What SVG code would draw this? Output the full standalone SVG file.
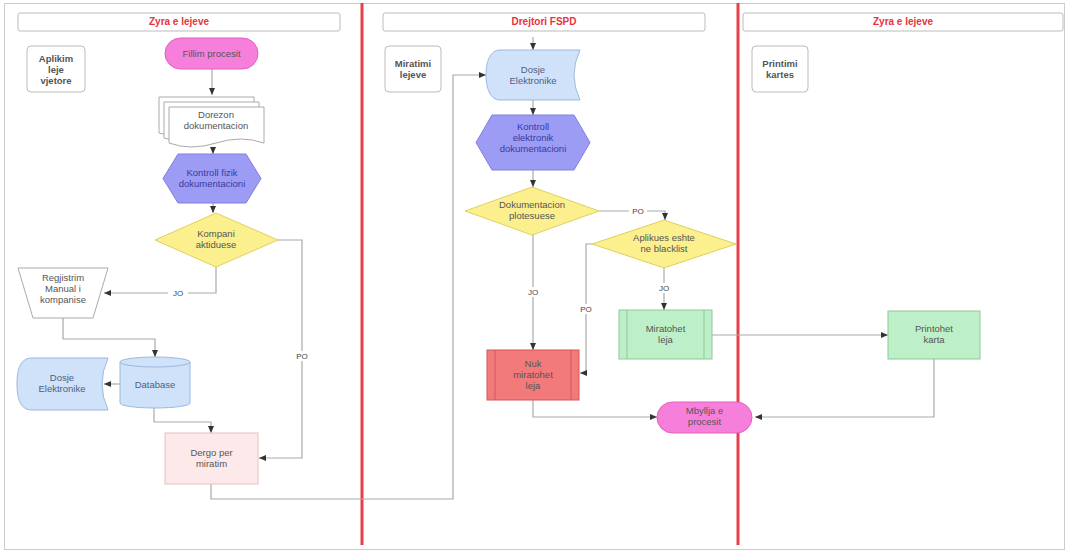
<svg xmlns="http://www.w3.org/2000/svg" width="1069" height="552" viewBox="0 0 1069 552">
<defs>
<marker id="ah" markerWidth="8" markerHeight="8" refX="7" refY="4" orient="auto" markerUnits="userSpaceOnUse">
<path d="M0,1 L7,4 L0,7 Z" fill="#333"/>
</marker>
<style>
text{font-family:"Liberation Sans",Arial,sans-serif;font-size:9.5px;fill:#555;text-anchor:middle}
.hdr{fill:#fff;stroke:#bbb;stroke-width:1}
.hdrt{fill:#e8323c;font-weight:bold;font-size:10px}
.lane{fill:#fff;stroke:#bbb;stroke-width:1}
.lanet{fill:#555;font-weight:bold;font-size:9.5px}
.c{fill:none;stroke:#aaa;stroke-width:1.2}
.ca{fill:none;stroke:#aaa;stroke-width:1.2;marker-end:url(#ah)}
.lbl{font-size:8px;fill:#444}
.term{fill:#f77fdc;stroke:#e060c0;stroke-width:1}
.hex{fill:#9c9cf4;stroke:#8080e0;stroke-width:1}
.hext{fill:#3a3aa0}
.dia{fill:#fbef8e;stroke:#e0d060;stroke-width:1}
.blue{fill:#cfe2fa;stroke:#9ab8dc;stroke-width:1}
.bluet{fill:#4f607e}
.white{fill:#fff;stroke:#aaa;stroke-width:1}
.green{fill:#bdf0c8;stroke:#90c89c;stroke-width:1}
.red{fill:#f27a7a;stroke:#d05858;stroke-width:1}
.pinkbox{fill:#fde9e9;stroke:#e8c0c0;stroke-width:1}
.sep{stroke:#e8404a;stroke-width:3}
</style>
</defs>
<rect x="0" y="0" width="1069" height="552" fill="#fff"/>
<rect x="4.5" y="3.5" width="1060" height="546" fill="#fff" stroke="#ccc" stroke-width="1"/>

<g id="lanes">
<line class="sep" x1="362" y1="3" x2="362" y2="545"/>
<line class="sep" x1="738" y1="3" x2="738" y2="545"/>
<rect class="hdr" x="18" y="13" width="322" height="18" rx="2"/>
<text class="hdrt" x="179" y="25">Zyra e lejeve</text>
<rect class="hdr" x="383" y="13" width="322" height="18" rx="2"/>
<text class="hdrt" x="544" y="25">Drejtori FSPD</text>
<rect class="hdr" x="743" y="13" width="320" height="18" rx="2"/>
<text class="hdrt" x="903" y="25">Zyra e lejeve</text>
</g>

<g id="lane-aplikim">
<rect class="lane" x="27" y="46" width="58" height="46" rx="4"/>
<text class="lanet" x="56" y="62">Aplikim</text>
<text class="lanet" x="56" y="73">leje</text>
<text class="lanet" x="56" y="84">vjetore</text>
</g>
<g id="lane-miratimi">
<rect class="lane" x="385" y="46" width="56" height="46" rx="4"/>
<text class="lanet" x="413" y="67">Miratimi</text>
<text class="lanet" x="413" y="78">lejeve</text>
</g>
<g id="lane-printimi">
<rect class="lane" x="752" y="46" width="56" height="46" rx="4"/>
<text class="lanet" x="780" y="67">Printimi</text>
<text class="lanet" x="780" y="78">kartes</text>
</g>

<g id="connectors">
<path class="ca" d="M212,69 V95"/>
<path class="ca" d="M213,147 V154"/>
<path class="ca" d="M213,203 V213"/>
<path class="ca" d="M216,267 V293 H104"/>
<path class="ca" d="M278,240 H302 V458 H259"/>
<path class="ca" d="M63,318 V339 H155 V357"/>
<path class="ca" d="M120,384 H104"/>
<path class="ca" d="M154,408 V422 H211 V433"/>
<path class="ca" d="M211,484 V499 H453 V75 H486"/>
<path class="ca" d="M533,37 V50"/>
<path class="ca" d="M533,100 V115"/>
<path class="ca" d="M533,170 V187"/>
<path class="ca" d="M599,211 H665 V220"/>
<path class="ca" d="M664,268 V310"/>
<path class="ca" d="M592,244 H586 V373 H580"/>
<path class="ca" d="M533,235 V350"/>
<path class="ca" d="M533,400 V417 H657"/>
<path class="ca" d="M712,335 H888"/>
<path class="ca" d="M934,359 V417 H755"/>
<rect x="168" y="288" width="20" height="10" fill="#fff"/>
<text class="lbl" x="178" y="296">JO</text>
<rect x="294" y="351" width="16" height="10" fill="#fff"/>
<text class="lbl" x="302" y="359">PO</text>
<rect x="629" y="206" width="18" height="10" fill="#fff"/>
<text class="lbl" x="638" y="214">PO</text>
<rect x="655" y="283" width="18" height="10" fill="#fff"/>
<text class="lbl" x="664" y="291">JO</text>
<rect x="578" y="304" width="16" height="10" fill="#fff"/>
<text class="lbl" x="586" y="312">PO</text>
<rect x="524" y="287" width="18" height="10" fill="#fff"/>
<text class="lbl" x="533" y="295">JO</text>
</g>

<g id="fillim">
<rect class="term" x="165" y="38" width="93" height="31" rx="15.5"/>
<text x="211.5" y="57">Fillim procesit</text>
</g>
<g id="dorezon">
<path class="white" d="M159,97 H254 V133 Q231,126 206,133 T159,133 Z"/>
<path class="white" d="M164,102 H259 V138 Q236,131 211,138 T164,138 Z"/>
<path class="white" d="M169,107 H264 V143 Q241,135 216,143 T169,143 Z"/>
<text x="216" y="118">Dorezon</text>
<text x="216" y="129">dokumentacion</text>
</g>
<g id="kontroll-fizik">
<polygon class="hex" points="163,178.5 178,154 246,154 261,178.5 246,203 178,203"/>
<text class="hext" x="212" y="176">Kontroll fizik</text>
<text class="hext" x="212" y="187">dokumentacioni</text>
</g>
<g id="kompani">
<polygon class="dia" points="155,240 216,213 278,240 216,267"/>
<text x="216" y="237">Kompani</text>
<text x="216" y="248">aktiduese</text>
</g>
<g id="regjistrim">
<polygon class="white" points="18,268 108,268 93,318 33,318"/>
<text x="63" y="281">Regjistrim</text>
<text x="63" y="292">Manual i</text>
<text x="63" y="303">kompanise</text>
</g>
<g id="dosje-left">
<path class="blue" d="M32,358 H108 Q96,384 108,410 H32 C20,410 17,398 17,384 C17,370 20,358 32,358 Z"/>
<text class="bluet" x="62" y="381">Dosje</text>
<text class="bluet" x="62" y="392">Elektronike</text>
</g>
<g id="database">
<path class="blue" d="M120,362 A35,5 0 0 1 190,362 V403 A35,5 0 0 1 120,403 Z"/>
<path fill="none" stroke="#9ab8dc" d="M120,362 A35,5 0 0 0 190,362"/>
<text class="bluet" x="155" y="388">Database</text>
</g>
<g id="dergo">
<rect class="pinkbox" x="165" y="433" width="93" height="51"/>
<text x="211.5" y="456">Dergo per</text>
<text x="211.5" y="467">miratim</text>
</g>

<g id="dosje-mid">
<path class="blue" d="M500,50 H580 Q568,75 580,100 H500 C490,100 486,88 486,75 C486,62 490,50 500,50 Z"/>
<text class="bluet" x="533" y="73">Dosje</text>
<text class="bluet" x="533" y="84">Elektronike</text>
</g>
<g id="kontroll-elektronik">
<polygon class="hex" points="476,142.5 492,115 574,115 590,142.5 574,170 492,170"/>
<text class="hext" x="533" y="130">Kontroll</text>
<text class="hext" x="533" y="141">elektronik</text>
<text class="hext" x="533" y="152">dokumentacioni</text>
</g>
<g id="dokumentacion">
<polygon class="dia" points="465,211 532,187 599,211 532,235"/>
<text x="532" y="208">Dokumentacion</text>
<text x="532" y="219">plotesuese</text>
</g>
<g id="blacklist">
<polygon class="dia" points="592,244 664,220 736,244 664,268"/>
<text x="664" y="241">Aplikues eshte</text>
<text x="664" y="252">ne blacklist</text>
</g>
<g id="miratohet">
<rect class="green" x="619" y="310" width="93" height="49"/>
<line x1="627" y1="310" x2="627" y2="359" stroke="#90c89c"/>
<line x1="704" y1="310" x2="704" y2="359" stroke="#90c89c"/>
<text x="665.5" y="332">Miratohet</text>
<text x="665.5" y="343">leja</text>
</g>
<g id="nuk-miratohet">
<rect class="red" x="487" y="350" width="92" height="50"/>
<line x1="495" y1="350" x2="495" y2="400" stroke="#d05858"/>
<line x1="571" y1="350" x2="571" y2="400" stroke="#d05858"/>
<text x="533" y="367">Nuk</text>
<text x="533" y="378">miratohet</text>
<text x="533" y="389">leja</text>
</g>
<g id="mbyllja">
<rect class="term" x="657" y="402" width="95" height="31" rx="15.5"/>
<text x="704.5" y="414">Mbyllja e</text>
<text x="704.5" y="425">procesit</text>
</g>
<g id="printohet">
<rect class="green" x="888" y="311" width="92" height="48"/>
<text x="934" y="332">Printohet</text>
<text x="934" y="343">karta</text>
</g>
</svg>
